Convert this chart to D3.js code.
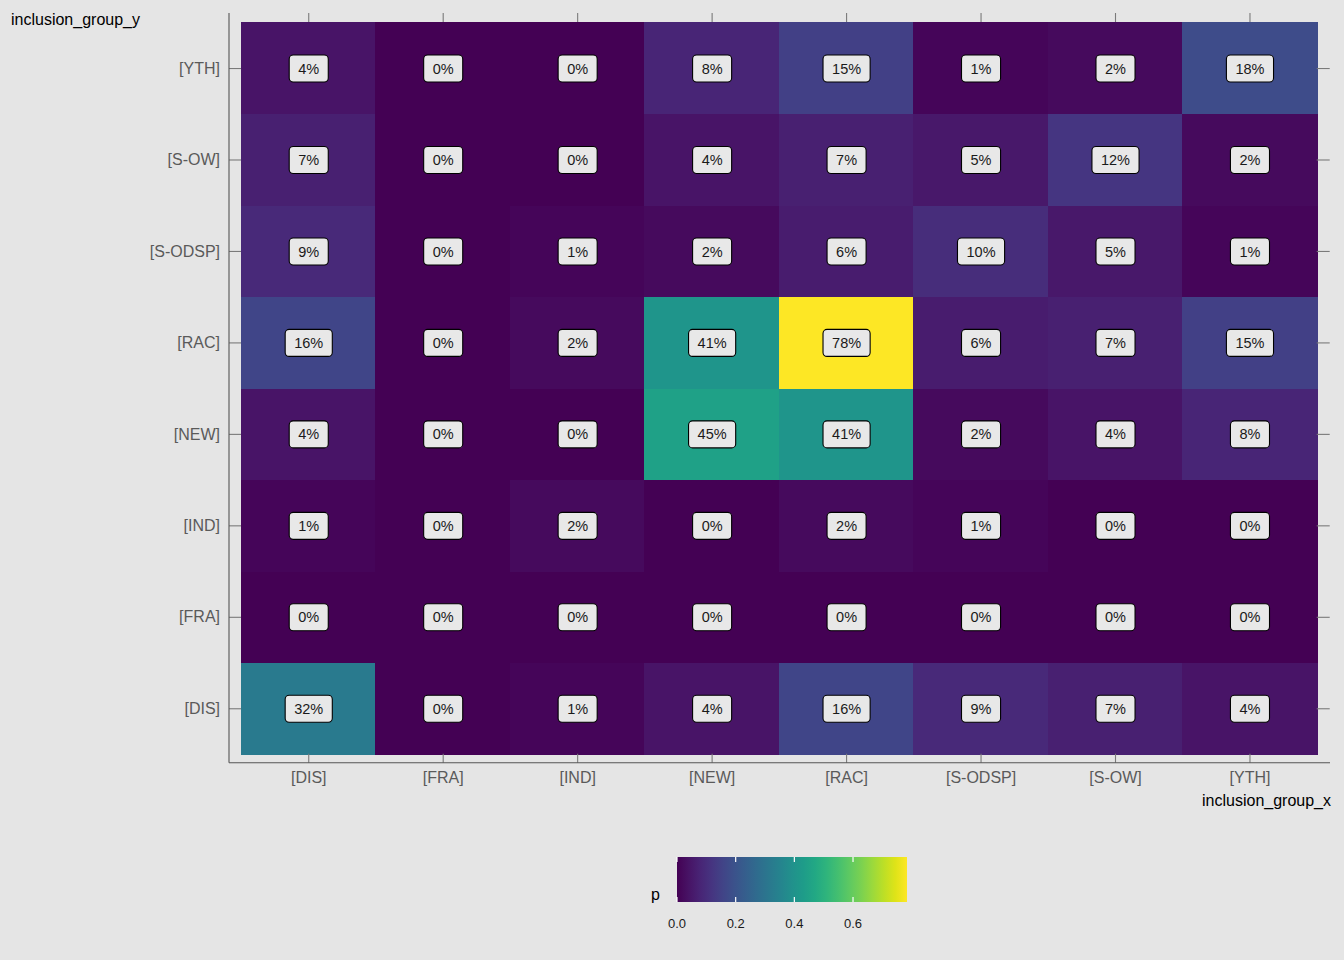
<!DOCTYPE html>
<html>
<head>
<meta charset="utf-8">
<script src="https://cdn.jsdelivr.net/npm/d3@7"></script>
<style>
  html, body { margin: 0; padding: 0; background: #e5e5e5; }
  svg { display: block; font-family: "Liberation Sans", Arial, sans-serif; }
</style>
</head>
<body>
<svg id="chart" width="1344" height="960"></svg>
<script>
// ---- data ----
const xCategories = ["[DIS]", "[FRA]", "[IND]", "[NEW]", "[RAC]", "[S-ODSP]", "[S-OW]", "[YTH]"];
const yCategories = ["[DIS]", "[FRA]", "[IND]", "[NEW]", "[RAC]", "[S-ODSP]", "[S-OW]", "[YTH]"]; // bottom to top
// percentages, one array per y category (columns follow xCategories)
const rowYTH   = [4, 0, 0, 8, 15, 1, 2, 18];
const rowSOW   = [7, 0, 0, 4, 7, 5, 12, 2];
const rowSODSP = [9, 0, 1, 2, 6, 10, 5, 1];
const rowRAC   = [16, 0, 2, 41, 78.4, 6, 7, 15];
const rowNEW   = [4, 0, 0, 45, 41, 2, 4, 8];
const rowIND   = [1, 0, 2, 0, 2, 1, 0, 0];
const rowFRA   = [0, 0, 0, 0, 0, 0, 0, 0];
const rowDIS   = [32, 0, 1, 4, 16, 9, 7, 4];
const legendTicks = [0, 0.2, 0.4, 0.6];
const xTitle = "inclusion_group_x";
const yTitle = "inclusion_group_y";
const legendTitle = "p";

const rowsByY = {
  "[DIS]": rowDIS, "[FRA]": rowFRA, "[IND]": rowIND, "[NEW]": rowNEW,
  "[RAC]": rowRAC, "[S-ODSP]": rowSODSP, "[S-OW]": rowSOW, "[YTH]": rowYTH
};
const cells = [];
yCategories.forEach(yc => {
  rowsByY[yc].forEach((v, i) => cells.push({ x: xCategories[i], y: yc, p: v / 100 }));
});

// ---- layout ----
const svg = d3.select("#chart");
const panel = { left: 241, right: 1316.7, top: 22, bottom: 753.7 };
const axisLineX = 229, axisLineY = 762.7;

const x = d3.scaleBand().domain(xCategories).range([panel.left, panel.right]).padding(0);
const y = d3.scaleBand().domain(yCategories.slice().reverse()).range([panel.top, panel.bottom]).padding(0);
const pMax = d3.max(cells, d => d.p);
const color = d3.scaleSequential(d3.interpolateViridis).domain([0, pMax]);

// cells
svg.append("g").attr("shape-rendering", "crispEdges").selectAll("rect").data(cells).join("rect")
  .attr("x", d => x(d.x))
  .attr("y", d => y(d.y))
  .attr("width", x.bandwidth() + 1)
  .attr("height", y.bandwidth() + 1)
  .attr("fill", d => color(d.p));

// labels
const lab = svg.append("g").selectAll("g").data(cells).join("g")
  .attr("transform", d => `translate(${x(d.x) + x.bandwidth() / 2 + 0.5},${y(d.y) + y.bandwidth() / 2 + 0.8})`);
lab.append("rect").attr("class", "lbox");
lab.append("text")
  .attr("text-anchor", "middle")
  .attr("dy", "0.35em")
  .attr("font-size", 14.5)
  .attr("fill", "#1a1a1a")
  .text(d => Math.round(d.p * 100) + "%");
lab.each(function () {
  const g = d3.select(this);
  const bb = g.select("text").node().getBBox();
  const w = bb.width + 18, h = 27;
  g.select("rect")
    .attr("x", -w / 2).attr("y", -h / 2)
    .attr("width", w).attr("height", h)
    .attr("rx", 4).attr("ry", 4)
    .attr("fill", "#e8e8e8").attr("stroke", "#000").attr("stroke-width", 1.1);
});

// axes
const tickColor = "#7a7a7a";
function styleAxis(g) {
  g.select(".domain").remove();
  g.selectAll(".tick line").attr("stroke", tickColor).attr("stroke-width", 1.1);
  g.selectAll(".tick text").attr("fill", "#5a5a5a").attr("font-size", 16)
    .attr("font-family", "\"Liberation Sans\", Arial, sans-serif");
}
svg.append("g").attr("transform", `translate(${panel.left},0.8)`)
  .call(d3.axisLeft(y).tickSize(12).tickPadding(9)).call(styleAxis);
svg.append("g").attr("transform", `translate(0.5,${panel.bottom})`)
  .call(d3.axisBottom(x).tickSize(9).tickPadding(9)).call(styleAxis);
svg.append("g").attr("transform", `translate(0.5,${panel.top})`)
  .call(d3.axisTop(x).tickSize(9).tickFormat("")).call(styleAxis);
svg.append("g").attr("transform", `translate(${panel.right},0.8)`)
  .call(d3.axisRight(y).tickSize(13).tickFormat("")).call(styleAxis);

// axis lines
svg.append("line").attr("x1", axisLineX).attr("x2", axisLineX).attr("y1", 13).attr("y2", axisLineY)
  .attr("stroke", "#555").attr("stroke-width", 1.1);
svg.append("line").attr("x1", axisLineX).attr("x2", 1330).attr("y1", axisLineY).attr("y2", axisLineY)
  .attr("stroke", "#555").attr("stroke-width", 1.1);

// axis titles
svg.append("text").attr("x", 11).attr("y", 25).attr("font-size", 16).attr("fill", "#000").text(yTitle);
svg.append("text").attr("x", 1331).attr("y", 806).attr("text-anchor", "end")
  .attr("font-size", 16).attr("fill", "#000").text(xTitle);

// legend colorbar
const lg = { x0: 677, x1: 907, y0: 857, y1: 902 };
const lx = d3.scaleLinear().domain([0, pMax]).range([lg.x0, lg.x1]);
const defs = svg.append("defs");
const grad = defs.append("linearGradient").attr("id", "vgrad").attr("x1", "0%").attr("x2", "100%");
d3.range(0, 1.0001, 0.05).forEach(t => {
  grad.append("stop").attr("offset", (t * 100) + "%").attr("stop-color", d3.interpolateViridis(t));
});
svg.append("rect").attr("x", lg.x0).attr("y", lg.y0).attr("width", lg.x1 - lg.x0).attr("height", lg.y1 - lg.y0)
  .attr("fill", "url(#vgrad)");
const lt = svg.append("g").selectAll("g").data(legendTicks).join("g");
lt.append("line").attr("x1", d => lx(d)).attr("x2", d => lx(d)).attr("y1", lg.y0).attr("y2", lg.y0 + 5)
  .attr("stroke", "#fff").attr("stroke-width", 1.2);
lt.append("line").attr("x1", d => lx(d)).attr("x2", d => lx(d)).attr("y1", lg.y1 - 5).attr("y2", lg.y1)
  .attr("stroke", "#fff").attr("stroke-width", 1.2);
lt.append("text").attr("x", d => lx(d)).attr("y", 928).attr("text-anchor", "middle")
  .attr("font-size", 13).attr("fill", "#1a1a1a").text(d => d3.format(".1f")(d));
svg.append("text").attr("x", 651).attr("y", 900).attr("font-size", 16).attr("fill", "#000").text(legendTitle);
</script>
</body>
</html>
